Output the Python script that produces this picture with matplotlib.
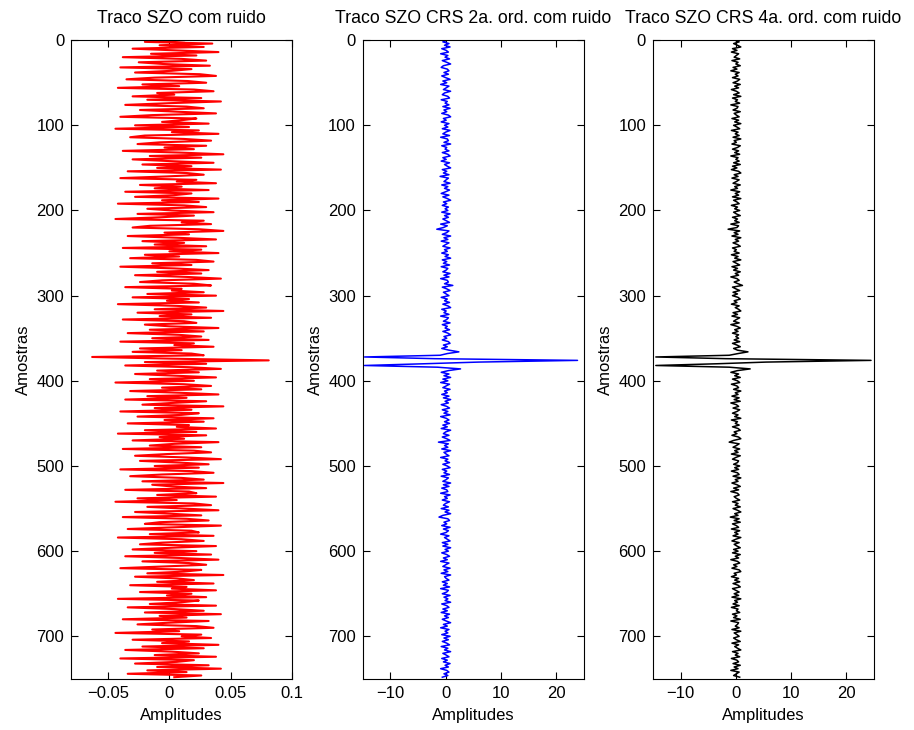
import numpy as np
import matplotlib
matplotlib.use("Agg")
import matplotlib.pyplot as plt

plt.rcParams["font.family"] = ["Liberation Sans", "DejaVu Sans"]
plt.rcParams["font.size"] = 12

# Sample interval of the stored traces (samples)
SAMPLE_STEP = 2

# Noisy zero-offset trace, amplitude in thousandths
szo_noisy_milli = [
    12, -20, 35, -8, 28, -30, 5, 40, -15, 22, -38, 10, 30, -25, -5, 33, -40, 18, 2, -28, 25, 38, -12, -35, 15,
    30, -22, 8, -42, 20, 36, -10, 4, -30, 26, -18, 42, 0, -36, 14, 28, -24, 6, 38, -14, -40, 22, 10, -6, 32,
    -28, 16, -44, 24, 2, 40, -20, -32, 12, 34, -8, -26, 30, -4, 20, -38, 8, 44, -16, 26, -30, 0, 36, -22, 18,
    -10, 42, -34, 14, 28, -2, -40, 22, 6, 38, -24, 10, -12, 32, -36, 18, 4, -28, 40, -6, 24, -42, 12, 30, -18,
    2, 36, -26, 20, -8, -44, 28, 10, 34, -16, -30, 24, 44, -4, 16, -34, 6, 38, -22, 12, -12, 30, -38, 26, 0,
    40, -20, 8, -32, 22, 36, -14, 18, -40, 4, 32, -10, 26, -28, 14, 42, -6, -24, 20, 34, -36, 10, 2, 28, -18,
    38, -30, 16, -2, 24, -42, 6, 30, -12, 44, -26, 18, -8, 34, -38, 12, 22, -20, 0, 40, -16, 28, -34, 8, 26,
    -14, 32, -40, 20, 4, 36, -24, 10, -30, 18, 28, -63, 2, 81, -20, 30, -36, 16, 42, -10, 24, -28, 6, 38, -16,
    20, -44, 12, 34, -6, 26, -32, 8, 40, -18, 14, -36, 30, 2, -22, 44, -12, 18, -40, 24, 10, -26, 36, -4, 28,
    -34, 16, 6, 38, -20, 22, -42, 30, -8, 12, -30, 40, 4, -16, 26, -38, 20, 34, -2, -28, 14, 42, -24, 8, 32,
    -12, 24, -40, 18, 36, -6, -32, 10, 28, -22, 44, -14, 2, 30, -36, 16, 22, -10, 38, -26, 6, -44, 20, 34, -18,
    12, 40, -28, 0, 26, -38, 14, 32, -8, -20, 42, 4, -34, 18, 24, -16, 36, -42, 10, 28, -6, -24, 38, 2, -30,
    22, -12, 34, -36, 8, 40, -22, 16, 30, -4, -40, 26, 12, -18, 44, -28, 6, 20, -10, 36, -32, 14, 2, 38, -24,
    18, -2, 30, -42, 24, 10, -16, 38, -34, 4, 28, -20, 42, -8, 14, -38, 32, 0, -26, 22, 36, -14, 8, -44, 26,
    10, 34, -30, 16, -6, 40, -22, 28, -36, 2, 24, -12, 38, -40, 20, 6, -28, 32, -10, 42, -18, 14, -34, 26, 4,
]

# CRS stack, 2nd order traveltime
crs2_noisy = [
    0.3, -0.5, 0.6, -0.2, 0.8, -0.7, 0.1, 0.5, -0.9, 0.4, -0.1, 0.7, -0.6, 0.2, 0.9, -0.4, -0.8, 0.3, 0.6, -0.3, 0.5, -0.7, 0.0, 0.8, -0.5,
    0.2, -0.9, 0.6, 0.1, -0.4, 0.9, -0.2, -0.6, 0.4, 0.7, -0.8, 0.3, -0.1, 0.6, -0.5, 0.8, -0.3, 0.2, -0.7, 0.5, 0.9, -0.4, 0.1, -0.8, 0.6,
    -0.2, 0.4, -0.6, 0.8, 0.0, -0.5, 0.7, -0.9, 0.3, 0.5, -0.3, 0.9, -0.7, 0.2, -0.1, 0.6, -0.6, 0.4, 0.8, -0.5, 0.1, -0.8, 0.7, -0.2, 0.3,
    0.9, -0.6, 0.2, -0.4, 0.6, -1.0, 0.5, 0.1, -0.3, 0.8, -0.7, 0.4, -0.2, 0.7, 0.0, -0.8, 0.6, -0.5, 0.3, 0.9, -0.4, 0.2, -0.6, 0.5, -0.1,
    0.4, -0.7, 0.8, -0.2, 0.5, -0.5, 0.1, 0.7, -0.9, 0.3, -0.4, -1.6, 0.6, 0.2, -0.6, 0.9, -0.3, 0.4, -0.8, 0.6, 0.0, -0.5, 0.8, -0.2, 0.3,
    -0.7, 0.5, -0.1, 0.9, -0.6, 0.2, -0.4, 0.7, -0.8, 0.4, 0.1, -0.5, 0.8, -0.3, 0.6, -0.9, 0.3, 0.5, -0.2, 1.3, -0.6, 0.2, 0.8, -0.4, 0.1,
    0.6, -0.8, 0.3, -0.2, 0.7, -0.5, 0.4, 0.9, -0.7, 0.1, -0.3, 0.6, -0.9, 0.5, 0.2, -0.4, 0.8, -0.6, 0.3, -0.1, 0.7, -0.5, 0.4, 0.9, -0.3,
    0.2, -0.6, 0.5, 0.8, -0.4, 0.3, -0.7, 0.6, 2.4, 0.3, -1.0, -14.7, -2.0, 23.9, 6.0, -4.0, -14.7, -1.5, 2.7, 0.5, -0.8, 0.6, -0.3, 0.9, -0.5,
    0.4, -0.9, 0.7, 0.1, -0.5, 0.8, -0.2, 0.3, -0.7, 0.6, -0.4, 0.9, -0.1, 0.5, -0.8, 0.2, 0.7, -0.6, 0.4, -0.3, 0.8, -0.9, 0.1, 0.6, -0.2,
    0.7, -0.5, 0.3, -0.8, 0.9, 0.0, -0.4, 0.6, -0.6, 0.2, 0.8, -1.3, 0.5, -0.2, 0.4, -0.7, 0.9, -0.3, 0.1, 0.6, -0.9, 0.4, -0.1, 0.7, -0.5,
    0.3, 0.8, -0.6, 0.2, -0.3, 0.7, -0.8, 0.5, 0.1, -0.5, 0.9, -0.4, 0.6, -0.7, 0.2, 0.4, -0.9, 0.8, -0.2, 0.3, -0.6, 0.7, 0.0, -0.4, 0.5,
    -0.8, 0.6, -0.1, 0.9, -0.5, -1.2, 0.4, 0.7, -0.3, 0.2, -0.7, 0.8, -0.4, 0.5, 0.1, -0.9, 0.6, -0.2, 0.3, 0.8, -0.6, 0.4, -0.5, 0.9, -0.1,
    0.5, -0.7, 0.2, 0.7, -0.4, 0.3, -0.9, 0.6, 0.0, -0.5, 0.8, -0.3, 0.4, -0.8, 0.9, -0.2, 0.1, 0.6, -0.6, 0.3, -0.4, 0.7, -0.9, 0.5, 0.2,
    -0.6, 0.8, -0.3, 0.4, -0.1, 0.9, -0.7, 0.2, 0.6, -0.5, 0.3, -0.8, 0.7, -0.2, 0.5, -0.6, 0.1, 0.9, -0.4, 0.3, -0.9, 0.6, -0.1, 0.4, -0.7,
    0.8, -0.3, 0.5, -0.6, 0.2, 0.7, -0.8, 0.4, -0.2, 0.9, -0.5, 0.1, 0.6, -0.7, 0.3, -0.4, 0.8, -0.1, 0.5, -0.9, 0.2, 0.6, -0.3, 0.4, -0.6,
]

# CRS stack, 4th order traveltime
crs4_noisy = [
    -0.2, 0.6, -0.4, 0.3, 0.9, -0.6, 0.2, -0.8, 0.5, 0.1, -0.3, 0.7, -0.7, 0.4, 0.0, 0.8, -0.5, 0.2, -0.9, 0.6, -0.1, 0.4, -0.6, 0.7, 0.3,
    -0.5, 0.8, -0.2, 0.5, -0.8, 0.1, 0.6, -0.4, 0.9, -0.6, 0.3, -0.1, 0.7, -0.9, 0.4, 0.2, -0.5, 0.8, -0.3, 0.1, 0.6, -0.7, 0.5, -0.2, 0.9,
    -0.4, 0.2, 0.7, -0.8, 0.4, -0.1, 0.6, -0.5, 0.9, -0.3, 0.1, -0.7, 0.8, 0.3, -0.6, 0.5, -0.2, 0.7, -0.9, 0.4, 0.0, 0.6, -0.4, 0.8, -0.6,
    0.2, -0.8, 0.5, 0.9, -0.3, 0.4, -0.7, 0.6, 0.1, -0.5, 0.8, -0.2, 0.3, -0.9, 0.7, -0.1, 0.5, -0.6, 0.9, -0.4, 0.2, 0.6, -0.8, 0.3, -0.2,
    0.7, -0.4, 0.1, 0.8, -0.6, 0.3, -0.2, 0.6, -0.9, 0.5, 0.2, -1.4, 0.7, -0.3, 0.4, -0.7, 0.9, -0.1, 0.5, -0.5, 0.3, 0.8, -0.6, 0.1, -0.3,
    0.6, -0.8, 0.4, -0.2, 0.9, -0.5, 0.1, 0.7, -0.7, 0.3, -0.4, 0.8, -0.1, 0.5, -0.9, 0.2, 0.6, -0.3, 0.4, 1.2, -0.6, 0.0, 0.7, -0.5, 0.3,
    -0.6, 0.4, 0.8, -0.3, 0.2, -0.8, 0.6, -0.1, 0.5, 0.9, -0.5, 0.3, -0.7, 0.7, 0.1, -0.4, 0.6, -0.9, 0.2, 0.8, -0.2, 0.4, -0.6, 0.5, 0.0,
    0.5, -0.3, 0.7, -0.6, 0.2, 0.8, -0.4, 0.3, 2.2, 0.4, -1.2, -14.5, -1.8, 24.5, 5.5, -3.5, -14.5, -1.2, 2.6, 0.3, -0.9, 0.5, -0.2, 0.8, -0.6,
    0.3, 0.7, -0.8, 0.2, 0.5, -0.4, 0.9, -0.1, 0.4, -0.7, 0.6, -0.3, 0.8, -0.9, 0.1, 0.5, -0.5, 0.7, 0.2, -0.6, 0.4, -0.2, 0.9, -0.8, 0.3,
    -0.1, 0.6, -0.6, 0.4, 0.8, -0.3, 0.2, -0.7, 0.5, 0.9, -0.4, -1.2, 0.6, 0.1, -0.5, 0.7, -0.2, 0.4, -0.8, 0.8, 0.0, -0.6, 0.5, 0.3, -0.4,
    0.7, -0.2, 0.5, -0.8, 0.3, 0.6, -0.5, 0.9, -0.1, 0.4, -0.7, 0.2, 0.8, -0.4, 0.5, -0.9, 0.3, 0.6, -0.3, 0.1, 0.7, -0.6, 0.4, -0.1, 0.8,
    -0.5, 0.3, 0.9, -0.2, 0.4, -1.0, 0.6, -0.3, 0.8, -0.6, 0.1, 0.5, -0.8, 0.7, -0.2, 0.4, -0.5, 0.9, 0.0, -0.7, 0.6, -0.3, 0.2, 0.8, -0.4,
    0.4, -0.6, 0.8, -0.1, 0.5, -0.9, 0.3, 0.7, -0.4, 0.2, -0.7, 0.6, 0.9, -0.3, 0.1, -0.8, 0.5, -0.2, 0.7, -0.5, 0.4, 0.8, -0.6, 0.0, 0.6,
    -0.3, 0.5, -0.7, 0.9, -0.2, 0.3, -0.5, 0.6, -0.8, 0.4, 0.1, 0.7, -0.6, 0.2, -0.4, 0.8, -0.9, 0.5, 0.3, -0.1, 0.6, -0.7, 0.9, -0.3, 0.2,
    0.6, -0.4, 0.1, 0.8, -0.7, 0.5, -0.2, 0.3, 0.9, -0.6, 0.4, -0.1, 0.7, -0.8, 0.2, 0.5, -0.5, 0.8, -0.3, 0.4, -0.9, 0.6, 0.1, -0.4, 0.7,
]

titles = ["Traco SZO com ruido",
          "Traco SZO CRS 2a. ord. com ruido",
          "Traco SZO CRS 4a. ord. com ruido"]

y_ticks = [0, 100, 200, 300, 400, 500, 600, 700]
x_ticks_szo = [-0.05, 0, 0.05, 0.1]
x_ticklabels_szo = ["\u22120.05", "0", "0.05", "0.1"]
x_ticks_crs = [-10, 0, 10, 20]
x_ticklabels_crs = ["\u221210", "0", "10", "20"]

traces = [np.array(szo_noisy_milli) / 1000.0,
          np.array(crs2_noisy),
          np.array(crs4_noisy)]
colors = ["#ff0000", "#0000ff", "#000000"]
widths = [1.5, 1.1, 1.1]
xlims = [(-0.08, 0.1), (-15, 25), (-15, 25)]
xticks = [(x_ticks_szo, x_ticklabels_szo),
          (x_ticks_crs, x_ticklabels_crs),
          (x_ticks_crs, x_ticklabels_crs)]

fig = plt.figure(figsize=(9.14, 7.3), dpi=100)
lefts = [0.078, 0.397, 0.7145]
width, bottom, height = 0.2415, 0.070, 0.875

for i in range(3):
    ax = fig.add_axes([lefts[i], bottom, width, height])
    amp = traces[i]
    samples = np.arange(len(amp)) * SAMPLE_STEP
    ax.plot(amp, samples, color=colors[i], lw=widths[i])
    ax.set_xlim(*xlims[i])
    ax.set_ylim(750, 0)
    ax.set_yticks(y_ticks)
    ax.set_xticks(xticks[i][0])
    ax.set_xticklabels(xticks[i][1])
    ax.tick_params(direction="in", length=5, width=0.8, top=True, right=True,
                   labelsize=12, pad=5)
    for sp in ax.spines.values():
        sp.set_linewidth(0.8)
    ax.set_title(titles[i], fontsize=12.8, pad=12)
    ax.set_xlabel("Amplitudes", fontsize=12, labelpad=5)
    ax.set_ylabel("Amostras", fontsize=12, labelpad=4)

fig.savefig("out.png", dpi=100)
